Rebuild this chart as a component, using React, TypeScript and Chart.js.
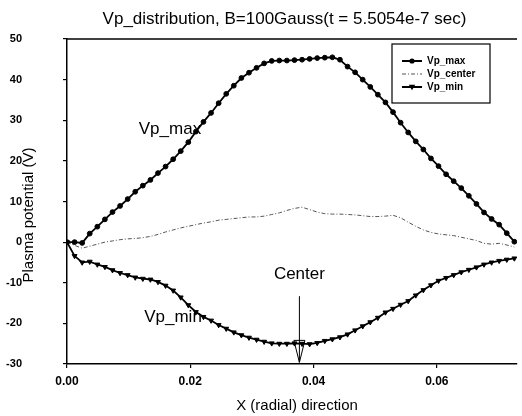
import React, { useEffect, useRef } from 'react';
import { Chart, registerables } from 'chart.js';

Chart.register(...registerables);

const TITLE = 'Vp_distribution, B=100Gauss(t = 5.5054e-7 sec)';
const X_TITLE = 'X (radial) direction';
const Y_TITLE = 'Plasma potential (V)';
const SERIES_NAMES = ['Vp_max', 'Vp_center', 'Vp_min'];
const X_TICKS = [0, 0.02, 0.04, 0.06];
const Y_TICKS = [-30, -20, -10, 0, 10, 20, 30, 40, 50];

const xs = [
  0, 0.00123, 0.00246, 0.00369, 0.00492, 0.00615, 0.00738, 0.00861, 0.00984, 0.01107,
  0.0123, 0.01353, 0.01476, 0.01599, 0.01722, 0.01845, 0.01968, 0.02091, 0.02214, 0.02337,
  0.0246, 0.02583, 0.02706, 0.02829, 0.02952, 0.03075, 0.03198, 0.03321, 0.03444, 0.03567,
  0.0369, 0.03813, 0.03936, 0.04059, 0.04182, 0.04305, 0.04428, 0.04551, 0.04674, 0.04797,
  0.0492, 0.05043, 0.05166, 0.05289, 0.05412, 0.05535, 0.05658, 0.05781, 0.05904, 0.06027,
  0.0615, 0.06273, 0.06396, 0.06519, 0.06642, 0.06765, 0.06888, 0.07011, 0.07134, 0.07257,
];

const vpMax = [
  0, 0, -0.2, 2.1, 3.8, 5.6, 7.4, 8.9, 10.6, 12.4,
  13.9, 15.3, 17.0, 18.6, 20.4, 22.4, 24.6, 27.2, 29.6, 31.8,
  34.2, 36.5, 38.5, 40.4, 41.7, 42.9, 44.0, 44.6, 44.7, 44.7,
  44.8, 44.9, 45.1, 45.3, 45.4, 45.5, 44.9, 43.2, 41.8, 40.0,
  38.2, 36.3, 34.4, 32.0, 29.4, 27.0, 24.8, 22.8, 20.6, 18.7,
  16.7, 15.0, 13.3, 11.4, 9.4, 7.3, 5.7, 4.3, 2.2, 0.1,
];

const vpCenter = [
  0, -0.8, -1.5, -1.0, -0.5, 0.0, 0.3, 0.6, 0.8, 0.9,
  1.1, 1.4, 1.9, 2.5, 3.0, 3.5, 3.9, 4.3, 4.7, 5.0,
  5.4, 5.6, 5.8, 6.0, 6.2, 6.2, 6.4, 6.8, 7.2, 7.8,
  8.3, 8.6, 8.0, 7.4, 7.0, 6.9, 6.9, 6.8, 6.7, 6.5,
  6.3, 6.3, 6.4, 6.6, 6.0, 4.9, 3.9, 3.0, 2.4, 2.0,
  1.8, 1.6, 1.2, 0.8, 0.4, -0.3, -0.5, -0.3, -0.7, -1.2,
];

const vpMin = [
  0, -3.4, -5.0, -4.8, -5.5, -6.1, -6.9, -7.6, -8.1, -8.7,
  -9.0, -9.2, -9.8, -10.7, -11.9, -13.6, -15.5, -17.2, -18.4, -19.3,
  -20.4, -21.3, -22.2, -22.9, -23.5, -24.0, -24.5, -24.9, -25.0, -25.0,
  -24.9, -25.0, -25.1, -24.8, -24.3, -23.9, -23.4, -22.7, -21.7, -20.7,
  -19.7, -18.6, -17.3, -16.4, -15.4, -14.5, -13.1, -11.8, -10.6, -9.5,
  -8.8, -8.1, -7.4, -6.8, -6.2, -5.5, -5.0, -4.6, -4.3, -4.0,
];

// annotations (in data units)
const CENTER_X = 0.0377;
const ARROW_TOP = -13.3;
const ARROW_TIP = -29.6;
const CURVE_LABELS = [
  { text: 'Vp_max', x: 0.0167, y: 27.8 },
  { text: 'Vp_min', x: 0.0172, y: -18.5 },
  { text: 'Center', x: 0.0377, y: -7.9 },
];

const FONT = '"Liberation Sans", Arial, Helvetica, sans-serif';

const overlay = {
  id: 'overlay',
  afterDraw(chart: any) {
    const { ctx, chartArea: ca, scales } = chart;
    const x = scales.x;
    const y = scales.y;
    ctx.save();
    ctx.fillStyle = '#000';
    ctx.strokeStyle = '#000';

    // top frame line
    ctx.lineWidth = 1.5;
    ctx.beginPath();
    ctx.moveTo(ca.left, ca.top);
    ctx.lineTo(ca.right, ca.top);
    ctx.stroke();

    // title
    ctx.font = `17px ${FONT}`;
    ctx.textAlign = 'center';
    ctx.textBaseline = 'middle';
    ctx.fillText(TITLE, (ca.left + ca.right) / 2 - 7.5, ca.top - 20);

    // x axis title
    ctx.font = `15px ${FONT}`;
    ctx.fillText(X_TITLE, (ca.left + ca.right) / 2 + 5, ca.bottom + 42);

    // y axis title (between tick labels and axis)
    ctx.save();
    ctx.translate(ca.left - 38, (ca.top + ca.bottom) / 2 + 13.5);
    ctx.rotate(-Math.PI / 2);
    ctx.font = `15px ${FONT}`;
    ctx.fillText(Y_TITLE, 0, 0);
    ctx.restore();

    // curve labels
    ctx.font = `17px ${FONT}`;
    CURVE_LABELS.forEach((l) => {
      ctx.fillText(l.text, x.getPixelForValue(l.x), y.getPixelForValue(l.y));
    });

    // arrow
    const ax = x.getPixelForValue(CENTER_X);
    const aTop = y.getPixelForValue(ARROW_TOP);
    const aTip = y.getPixelForValue(ARROW_TIP);
    ctx.lineWidth = 1;
    ctx.beginPath();
    ctx.moveTo(ax, aTop);
    ctx.lineTo(ax, aTip);
    ctx.stroke();
    ctx.beginPath();
    ctx.moveTo(ax - 5.5, aTip - 22);
    ctx.lineTo(ax, aTip);
    ctx.lineTo(ax + 5.5, aTip - 22);
    ctx.closePath();
    ctx.stroke();

    // legend
    const lx = ca.right - 125;
    const ly = ca.top + 5;
    ctx.lineWidth = 1.2;
    ctx.strokeRect(lx, ly, 98, 59);
    ctx.font = `bold 10px ${FONT}`;
    ctx.textAlign = 'left';
    SERIES_NAMES.forEach((name, i) => {
      const yy = ly + 17 + i * 13;
      ctx.save();
      if (i === 1) {
        ctx.strokeStyle = '#555';
        ctx.lineWidth = 1;
        ctx.setLineDash([4, 2, 1, 2]);
      } else {
        ctx.lineWidth = 2;
      }
      ctx.beginPath();
      ctx.moveTo(lx + 10, yy);
      ctx.lineTo(lx + 30, yy);
      ctx.stroke();
      ctx.restore();
      if (i === 0) {
        ctx.beginPath();
        ctx.arc(lx + 20, yy, 2.6, 0, Math.PI * 2);
        ctx.fill();
      } else if (i === 2) {
        ctx.beginPath();
        ctx.moveTo(lx + 16.8, yy - 2.3);
        ctx.lineTo(lx + 23.2, yy - 2.3);
        ctx.lineTo(lx + 20, yy + 3.2);
        ctx.closePath();
        ctx.fill();
      }
      ctx.fillStyle = '#000';
      ctx.fillText(name, lx + 35, yy);
    });

    ctx.restore();
  },
};

export default function App() {
  const ref = useRef<HTMLCanvasElement | null>(null);

  useEffect(() => {
    if (!ref.current) return;
    const toPts = (vals: number[]) => xs.map((xv, i) => ({ x: xv, y: vals[i] }));
    const chart = new Chart(ref.current, {
      type: 'line',
      data: {
        datasets: [
          {
            label: SERIES_NAMES[0],
            data: toPts(vpMax),
            borderColor: '#000',
            backgroundColor: '#000',
            borderWidth: 1.8,
            pointRadius: 2.4,
            pointBorderWidth: 1,
            pointStyle: 'circle',
            tension: 0,
          },
          {
            label: SERIES_NAMES[1],
            data: toPts(vpCenter),
            borderColor: '#555',
            backgroundColor: '#555',
            borderWidth: 1,
            borderDash: [4, 2, 1, 2],
            pointRadius: 0,
            tension: 0,
          },
          {
            label: SERIES_NAMES[2],
            data: toPts(vpMin),
            borderColor: '#000',
            backgroundColor: '#000',
            borderWidth: 1.8,
            pointRadius: 2.8,
            pointBorderWidth: 1,
            pointStyle: 'triangle',
            rotation: 180,
            tension: 0,
          },
        ],
      },
      options: {
        responsive: false,
        animation: false,
        devicePixelRatio: 1,
        layout: { padding: { top: 39, right: 0, left: 0, bottom: 0 } },
        plugins: {
          legend: { display: false },
          title: { display: false },
          tooltip: { enabled: false },
        },
        scales: {
          x: {
            type: 'linear',
            min: 0,
            max: 0.073,
            afterFit: (s: any) => {
              s.height = 52;
            },
            afterBuildTicks: (s: any) => {
              s.ticks = X_TICKS.map((v) => ({ value: v }));
            },
            ticks: {
              callback: (v: any) => Number(v).toFixed(2),
              font: { family: FONT, size: 12, weight: 'bold' },
              color: '#000',
              padding: 6,
              maxRotation: 0,
            },
            grid: { display: true, drawOnChartArea: false, drawTicks: true, tickLength: 4, color: '#000', lineWidth: 1.2 },
            border: { display: true, color: '#000', width: 1.5 },
            title: { display: false },
          },
          y: {
            type: 'linear',
            min: -30,
            max: 50,
            afterFit: (s: any) => {
              s.width = 67;
              s.paddingTop = 6;
              s.paddingBottom = 6;
            },
            afterBuildTicks: (s: any) => {
              s.ticks = Y_TICKS.map((v) => ({ value: v }));
            },
            ticks: {
              font: { family: FONT, size: 11, weight: 'bold' },
              color: '#000',
              padding: 41,
            },
            grid: { display: true, drawOnChartArea: false, drawTicks: true, tickLength: 4, color: '#000', lineWidth: 1.2 },
            border: { display: true, color: '#000', width: 1.5 },
          },
        },
      },
      plugins: [overlay],
    });
    return () => chart.destroy();
  }, []);

  return (
    <div style={{ position: 'fixed', left: 0, top: 0, width: 522, height: 416, background: '#fff' }}>
      <canvas ref={ref} width={522} height={416} style={{ display: 'block' }} />
    </div>
  );
}
